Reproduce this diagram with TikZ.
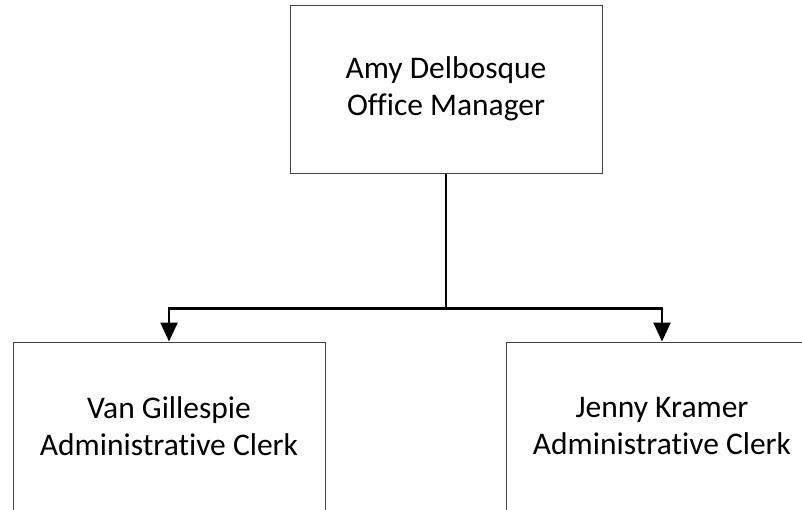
\documentclass[tikz,border=0pt]{standalone}
\usepackage{fontspec}
\setmainfont{Carlito}[Ligatures=NoCommon]
\usetikzlibrary{arrows.meta}

\begin{document}
\begin{tikzpicture}[x=1pt, y=-1pt,
    person/.style={draw=black!75, line width=1pt, minimum width=312pt, minimum height=168pt,
                   align=center, font=\fontsize{31.5}{37.5}\selectfont, inner sep=0pt},
    reports/.style={line width=2.5pt, -{Triangle[length=19pt,width=17pt]}}]
    \useasboundingbox (0,0) rectangle (802,509);
    \node[person] (manager) at (446,89) {Amy Delbosque\\Office Manager};
    \node[person] (clerkA) at (169,426) {Van Gillespie\\Administrative Clerk};
    \node[person] (clerkB) at (662,426) {Jenny Kramer\\Administrative Clerk};
    \draw[reports] (manager.south) -- ++(0,135) -| (clerkA.north);
    \draw[reports] (manager.south) -- ++(0,135) -| (clerkB.north);
\end{tikzpicture}
\end{document}
